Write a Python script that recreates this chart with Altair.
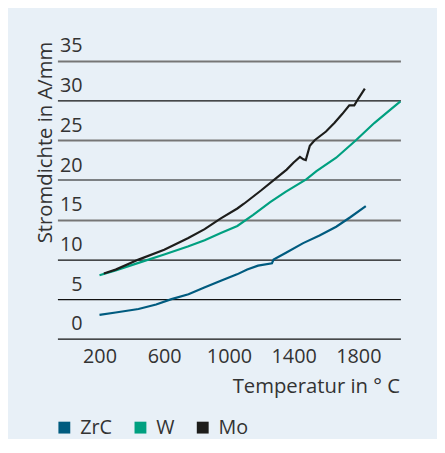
import altair as alt
import pandas as pd

# ---- data ----
materials = ["ZrC", "W", "Mo"]
colors = ["#005b7f", "#00a080", "#1d1d1b"]

zrc_t = [200, 300, 441, 550, 645, 750, 848, 950, 1050, 1113, 1180, 1266, 1276, 1350, 1459, 1560, 1663, 1750, 1846]
zrc_v = [3.0, 3.3, 3.74, 4.3, 4.98, 5.6, 6.44, 7.3, 8.1, 8.72, 9.2, 9.5, 9.96, 10.8, 12.04, 13.0, 14.1, 15.3, 16.7]

w_t = [200, 300, 441, 600, 746, 850, 950, 1052, 1150, 1255, 1350, 1480, 1541, 1663, 1785, 1900, 2000, 2060]
w_v = [8.0, 8.6, 9.55, 10.6, 11.6, 12.4, 13.3, 14.2, 15.6, 17.2, 18.5, 20.1, 21.1, 22.8, 25.0, 27.2, 28.9, 29.9]

mo_t = [227, 300, 441, 600, 746, 850, 950, 1052, 1093, 1200, 1296, 1357, 1400, 1439, 1460, 1475, 1500, 1530, 1600, 1653, 1700, 1744, 1775, 1795, 1840]
mo_v = [8.2, 8.7, 9.96, 11.2, 12.66, 13.8, 15.15, 16.4, 17.0, 18.7, 20.3, 21.3, 22.2, 22.9, 22.6, 22.5, 24.3, 25.0, 26.1, 27.2, 28.3, 29.4, 29.4, 30.1, 31.5]

x_ticks = [200, 600, 1000, 1400, 1800]
y_ticks = [0, 5, 10, 15, 20, 25, 30, 35]

rows = []
for name, ts, vs in [("ZrC", zrc_t, zrc_v), ("W", w_t, w_v), ("Mo", mo_t, mo_v)]:
    for i, (t, v) in enumerate(zip(ts, vs)):
        rows.append({"Material": name, "T": t, "J": v, "i": i})
df = pd.DataFrame(rows)

FONT = "Open Sans"
TXT = "#333333"
GRAY_TEST = "datum.value == 35 || datum.value == 25 || datum.value == 15"

chart = alt.Chart(df).mark_line(strokeWidth=2.2).encode(
    x=alt.X("T:Q",
            scale=alt.Scale(domain=[-60, 2060], nice=False, zero=False),
            axis=alt.Axis(values=x_ticks, format="d", grid=False, domain=False, ticks=False,
                          tickSize=0, labelPadding=8, labelFontSize=20,
                          labelColor=TXT, labelFont=FONT,
                          title="Temperatur in ° C", titleFontSize=20.5,
                          titleFont=FONT, titleColor=TXT, titleFontWeight="normal",
                          titleAnchor="end", titleAlign="right",
                          titleBaseline="alphabetic", titleX=346, titleY=54)),
    y=alt.Y("J:Q",
            scale=alt.Scale(domain=[0, 35], nice=False),
            axis=alt.Axis(values=y_ticks, grid=True, domain=False, ticks=False,
                          tickSize=0, labelAlign="right", labelPadding=-25,
                          labelBaseline="alphabetic", labelOffset=-9,
                          labelOverlap=False, labelFlush=False, labelBound=False,
                          labelFontSize=20, labelColor=TXT, labelFont=FONT,
                          gridColor={"condition": {"test": GRAY_TEST, "value": "#767676"}, "value": "#111111"},
                          gridWidth={"condition": {"test": GRAY_TEST, "value": 2}, "value": 1.2},
                          title="Stromdichte in A/mm", titleFontSize=20.5,
                          titleFont=FONT, titleColor=TXT, titleFontWeight="normal",
                          titleAngle=270, titleAlign="left", titleBaseline="alphabetic",
                          titleX=-6, titleY=184)),
    color=alt.Color("Material:N",
                    scale=alt.Scale(domain=materials, range=colors),
                    sort=materials,
                    legend=alt.Legend(title=None, orient="none", direction="horizontal",
                                      legendX=-5, legendY=359, symbolType="stroke",
                                      symbolSize=144, symbolStrokeWidth=12,
                                      labelFontSize=20, labelFont=FONT, labelColor=TXT,
                                      labelOffset=4, columnPadding=-2, padding=0)),
    order="i:Q",
).properties(
    width=347, height=281,
    padding={"left": 50, "top": 51, "right": 37, "bottom": 99},
    autosize=alt.AutoSizeParams(type="none"),
    background="#e8f0f7",
).configure_view(stroke=None)

chart.save("out.html", embed_options={"renderer": "svg", "actions": False})
